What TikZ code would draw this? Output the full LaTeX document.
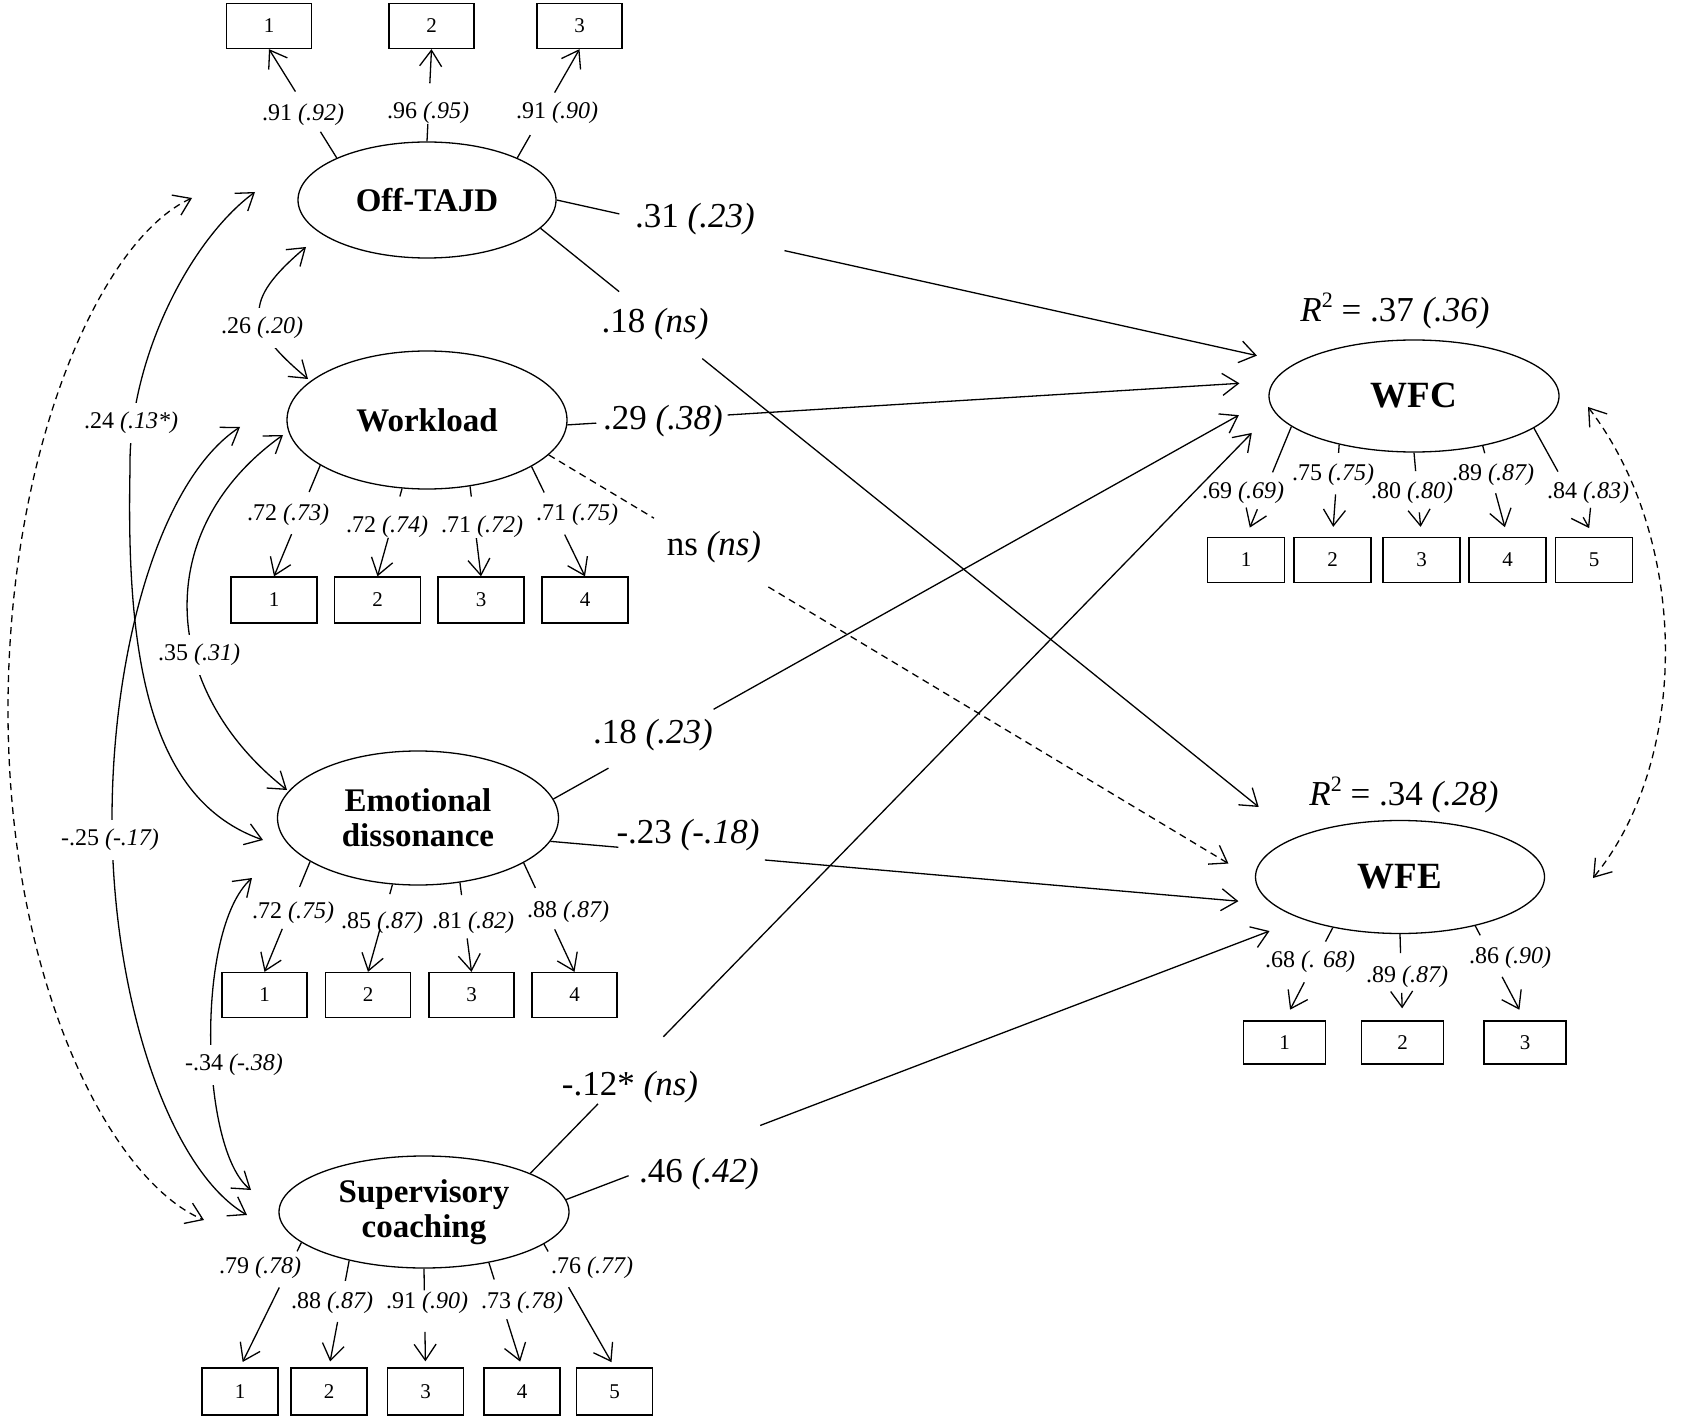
\documentclass[tikz,border=0pt]{standalone}
\usepackage{fontspec}
\setmainfont{Liberation Serif}
\usetikzlibrary{arrows.meta,shapes.geometric,calc}
\newcommand\sembrk[6]{%
  \draw[#1] (#2) -- ($(#2)!#4!(#3)$);
  \draw[#1,->,#6] ($(#2)!#5!(#3)$) -- (#3);}
\newcommand\semsq{\raisebox{0.4em}{\fontsize{22}{22}\selectfont 2}}
\begin{document}
\begin{tikzpicture}[x=1pt,y=-1pt,line width=1.3pt,
  >={Straight Barb[length=16pt,width=22pt]},
  lat/.style={draw,ellipse,inner sep=0pt,align=center,font=\fontsize{33}{35}\selectfont\bfseries},
  latr/.style={draw,ellipse,inner sep=0pt,align=center,font=\fontsize{37}{40}\selectfont\bfseries},
  obs/.style={draw,rectangle,inner sep=0pt,font=\fontsize{21}{24}\selectfont},
  ldl/.style={inner sep=1pt,font=\fontsize{24}{27}\selectfont},
  cvl/.style={fill=white,inner xsep=2pt,inner ysep=9pt,font=\fontsize{24}{27}\selectfont},
  pthl/.style={inner sep=1pt,font=\fontsize{35}{38}\selectfont},
  dsh/.style={dash pattern=on 7pt off 5pt}]
\fill[white] (0,0) rectangle (1703,1420);
\useasboundingbox (0,0) rectangle (1703,1420);

% latent variables
\node[lat,minimum width=258pt,minimum height=116pt] (off) at (427,200) {Off-TAJD};
\node[lat,minimum width=280pt,minimum height=138pt] (wl) at (427,420) {Workload};
\node[lat,minimum width=281pt,minimum height=134pt] (ed) at (418,818) {Emotional\\dissonance};
\node[lat,minimum width=290pt,minimum height=112pt] (sc) at (424,1212) {Supervisory\\coaching};
\node[latr,minimum width=290pt,minimum height=112pt] (wfc) at (1414,396) {WFC};
\node[latr,minimum width=289pt,minimum height=113pt] (wfe) at (1400,877) {WFE};

% indicators
\begin{scope}[every node/.style={obs,minimum width=85pt,minimum height=45pt}]
\node (o1) at (269,26) {1};
\node (o2) at (431.5,26) {2};
\node (o3) at (579.5,26) {3};
\end{scope}
\begin{scope}[every node/.style={obs,minimum width=86pt,minimum height=46pt}]
\node (w1) at (274,600) {1};
\node (w2) at (377.5,600) {2};
\node (w3) at (481,600) {3};
\node (w4) at (585,600) {4};
\end{scope}
\begin{scope}[every node/.style={obs,minimum width=85pt,minimum height=45pt}]
\node (e1) at (264.5,995) {1};
\node (e2) at (368,995) {2};
\node (e3) at (471.5,995) {3};
\node (e4) at (574.5,995) {4};
\end{scope}
\begin{scope}[every node/.style={obs,minimum width=76pt,minimum height=47pt}]
\node (s1) at (240,1391.5) {1};
\node (s2) at (329,1391.5) {2};
\node (s3) at (425.5,1391.5) {3};
\node (s4) at (522,1391.5) {4};
\node (s5) at (614.5,1391.5) {5};
\end{scope}
\begin{scope}[every node/.style={obs,minimum width=77pt,minimum height=45pt}]
\node (c1) at (1246,560) {1};
\node (c2) at (1332.5,560) {2};
\node (c3) at (1421.5,560) {3};
\node (c4) at (1507.5,560) {4};
\node (c5) at (1594,560) {5};
\end{scope}
\begin{scope}[every node/.style={obs,minimum width=82pt,minimum height=43pt}]
\node (f1) at (1284.5,1042.5) {1};
\node (f2) at (1402.5,1042.5) {2};
\node (f3) at (1525,1042.5) {3};
\end{scope}

% loadings
\sembrk{}{off.155}{o1.south}{0.24}{0.61}{}
\sembrk{}{off.90}{o2.south}{0.19}{0.63}{}
\sembrk{}{off.25}{o3.south}{0.21}{0.60}{}
\sembrk{}{wl.203}{w1.north}{0.24}{0.62}{}
\sembrk{}{wl.250}{w2.north}{0.09}{0.56}{}
\sembrk{}{wl.303}{w3.north}{0.115}{0.575}{}
\sembrk{}{wl.336}{w4.north}{0.236}{0.62}{}
\sembrk{}{ed.202}{e1.north}{0.23}{0.61}{}
\sembrk{}{ed.249}{e2.north}{0.11}{0.51}{}
\sembrk{}{ed.303}{e3.north}{0.14}{0.625}{}
\sembrk{}{ed.337}{e4.north}{0.23}{0.61}{}
\sembrk{}{sc.194}{s1.north}{0.07}{0.36}{shorten >=6pt}
\sembrk{}{sc.213}{s2.north}{0.19}{0.575}{shorten >=6pt}
\sembrk{}{sc.270}{s3.north}{0.22}{0.64}{shorten >=6pt}
\sembrk{}{sc.322}{s4.north}{0.16}{0.54}{shorten >=6pt}
\sembrk{}{sc.345}{s5.north}{0.06}{0.35}{shorten >=6pt}
\sembrk{}{wfc.194}{c1.north}{0.415}{0.75}{shorten >=10pt}
\sembrk{}{wfc.213}{c2.north}{0.09}{0.54}{shorten >=10pt}
\sembrk{}{wfc.270}{c3.north}{0.22}{0.71}{shorten >=10pt}
\sembrk{}{wfc.324}{c4.north}{0.08}{0.52}{shorten >=10pt}
\sembrk{}{wfc.345}{c5.north}{0.40}{0.82}{shorten >=10pt}
\sembrk{}{wfe.217}{f1.north}{0.15}{0.59}{shorten >=12pt}
\sembrk{}{wfe.270}{f2.north}{0.22}{0.68}{shorten >=12pt}
\sembrk{}{wfe.327}{f3.north}{0.10}{0.54}{shorten >=12pt}

\node[ldl] (lo1) at (303,115) {.91 \textit{(.92)}};
\node[ldl] (lo2) at (428,113) {.96 \textit{(.95)}};
\node[ldl] (lo3) at (557,113) {.91 \textit{(.90)}};
\node[ldl] (lw1) at (288,515) {.72 \textit{(.73)}};
\node[ldl] (lw2) at (387,527) {.72 \textit{(.74)}};
\node[ldl] (lw3) at (482,527) {.71 \textit{(.72)}};
\node[ldl] (lw4) at (577,515) {.71 \textit{(.75)}};
\node[ldl] (le1) at (293,913) {.72 \textit{(.75)}};
\node[ldl] (le2) at (382,923) {.85 \textit{(.87)}};
\node[ldl] (le3) at (473,923) {.81 \textit{(.82)}};
\node[ldl] (le4) at (568,912) {.88 \textit{(.87)}};
\node[ldl] (ls1) at (260,1268) {.79 \textit{(.78)}};
\node[ldl] (ls2) at (332,1303) {.88 \textit{(.87)}};
\node[ldl] (ls3) at (427,1303) {.91 \textit{(.90)}};
\node[ldl] (ls4) at (522,1303) {.73 \textit{(.78)}};
\node[ldl] (ls5) at (592,1268) {.76 \textit{(.77)}};
\node[ldl] (lc1) at (1243,493) {.69 \textit{(.69)}};
\node[ldl] (lc2) at (1333,475) {.75 \textit{(.75)}};
\node[ldl] (lc3) at (1412,493) {.80 \textit{(.80)}};
\node[ldl] (lc4) at (1493,475) {.89 \textit{(.87)}};
\node[ldl] (lc5) at (1588,493) {.84 \textit{(.83)}};
\node[ldl] (lf1) at (1310,962) {.68 \textit{(. 68)}};
\node[ldl] (lf2) at (1407,977) {.89 \textit{(.87)}};
\node[ldl] (lf3) at (1510,958) {.86 \textit{(.90)}};

% structural paths
\sembrk{}{off.0}{wfc.165}{0.085}{0.309}{shorten >=38pt}
\sembrk{}{off.346}{wfe.159}{0.104}{0.214}{shorten >=48pt}
\sembrk{}{wl.358}{wfc.174}{0.041}{0.227}{shorten >=34pt}
\sembrk{dsh}{wl.344}{wfe.181}{0.149}{0.311}{shorten >=31pt}
\sembrk{}{ed.8}{wfc.181}{0.077}{0.224}{shorten >=34pt}
\sembrk{}{ed.350}{wfe.192}{0.094}{0.297}{shorten >=34pt}
\sembrk{}{sc.20}{wfc.186}{0.091}{0.179}{shorten >=31pt}
\sembrk{}{sc.5}{wfe.203}{0.085}{0.264}{shorten >=34pt}

\node[pthl] (p1) at (695,219) {.31 \textit{(.23)}};
\node[pthl] (p2) at (655,324) {.18 \textit{(ns)}};
\node[pthl] (p3) at (663,421) {.29 \textit{(.38)}};
\node[pthl] (p4) at (714,547) {ns \textit{(ns)}};
\node[pthl] (p5) at (653,735) {.18 \textit{(.23)}};
\node[pthl] (p6) at (688,835) {-.23 \textit{(-.18)}};
\node[pthl] (p7) at (630,1087) {-.12* \textit{(ns)}};
\node[pthl] (p8) at (699,1174) {.46 \textit{(.42)}};

\node[font=\fontsize{35}{38}\selectfont] (r1) at (1395,311) {\textit{R}\semsq{} = .37 \textit{(.36)}};
\node[font=\fontsize{35}{38}\selectfont] (r2) at (1404,795) {\textit{R}\semsq{} = .34 \textit{(.28)}};

% covariances
\coordinate (ta1) at (306,247); \coordinate (tb1) at (308,379);
\coordinate (ta2) at (255,192); \coordinate (tb2) at (263,840);
\coordinate (ta3) at (192,198); \coordinate (tb3) at (204,1220);
\coordinate (ta4) at (283,435); \coordinate (tb4) at (287,790);
\coordinate (ta5) at (240,427); \coordinate (tb5) at (247,1215);
\coordinate (ta6) at (252,878); \coordinate (tb6) at (251,1190);
\coordinate (ta7) at (1588,407); \coordinate (tb7) at (1593,878);

\draw[<->] (ta1) .. controls (241,302) and (246,327) .. (tb1);
\draw[<->] (ta2) .. controls (190,240) and (128,360) .. (130,470) .. controls (126,660) and (150,800) .. (tb2);
\draw[dsh,<->] (ta3) .. controls (100,240) and (8,450) .. (8,710) .. controls (8,980) and (110,1180) .. (tb3);
\draw[<->] (ta4) .. controls (150,530) and (160,690) .. (tb4);
\draw[<->] (ta5) .. controls (160,480) and (112,650) .. (112,820) .. controls (112,1000) and (170,1170) .. (tb5);
\draw[<->] (ta6) .. controls (195,930) and (200,1150) .. (tb6);
\draw[dsh,<->] (ta7) .. controls (1690,540) and (1690,760) .. (tb7);

\node[cvl] (k1) at (262,328) {.26 \textit{(.20)}};
\node[cvl] (k2) at (131,423) {.24 \textit{(.13*)}};
\node[cvl] (k3) at (199,655) {.35 \textit{(.31)}};
\node[cvl] (k4) at (110,840) {-.25 \textit{(-.17)}};
\node[cvl] (k5) at (234,1065) {-.34 \textit{(-.38)}};
\end{tikzpicture}
\end{document}
